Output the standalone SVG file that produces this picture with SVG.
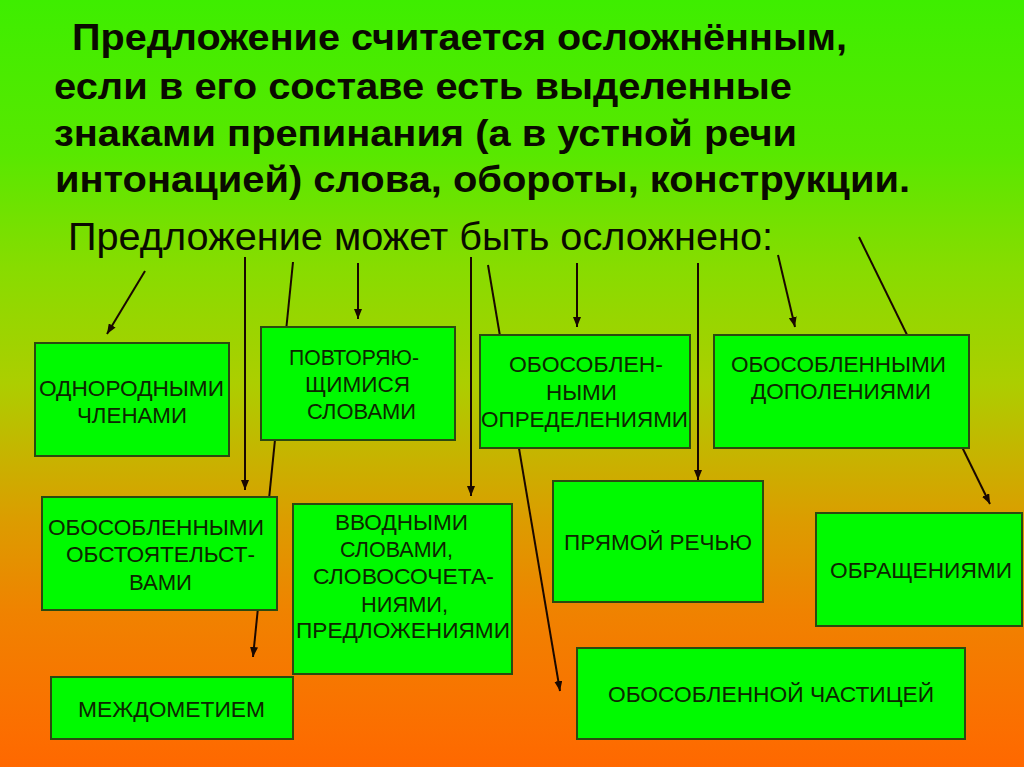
<svg xmlns="http://www.w3.org/2000/svg" width="1024" height="767" viewBox="0 0 1024 767">
<defs>
<linearGradient id="bg" x1="0" y1="0" x2="0" y2="1">
<stop offset="0" stop-color="#3eee00"/>
<stop offset="0.2" stop-color="#58e800"/>
<stop offset="0.35" stop-color="#88dc00"/>
<stop offset="0.5" stop-color="#acce00"/>
<stop offset="0.6" stop-color="#c8b200"/>
<stop offset="0.68" stop-color="#dc9c00"/>
<stop offset="0.8" stop-color="#f08200"/>
<stop offset="1" stop-color="#ff6800"/>
</linearGradient>
<marker id="ah" viewBox="0 0 10 8" refX="10" refY="4" markerWidth="10" markerHeight="8" orient="auto" markerUnits="userSpaceOnUse">
<path d="M0,0 L10,4 L0,8 z" fill="#1a0800"/>
</marker>
<style>
.title{font-family:"Liberation Sans",Arial,sans-serif;font-weight:bold;font-size:37px;fill:#0a0a00}
.sub{font-family:"Liberation Sans",Arial,sans-serif;font-size:38px;fill:#0a0a00}
.box rect{fill:#00fa00;stroke:#2b4a10;stroke-width:2}
.box text{font-family:"Liberation Sans",Arial,sans-serif;font-size:22px;fill:#0d2600}
.conn line{stroke:#1a0800;stroke-width:2}
.arr{marker-end:url(#ah)}
</style>
</defs>
<rect x="0" y="0" width="1024" height="767" fill="url(#bg)"/>
<g id="heading">
<text class="title" x="72" y="50" textLength="775" lengthAdjust="spacingAndGlyphs">Предложение считается осложнённым,</text>
<text class="title" x="54" y="99" textLength="738" lengthAdjust="spacingAndGlyphs">если в его составе есть выделенные</text>
<text class="title" x="54" y="146" textLength="743" lengthAdjust="spacingAndGlyphs">знаками препинания (а в устной речи</text>
<text class="title" x="55" y="192" textLength="855" lengthAdjust="spacingAndGlyphs">интонацией) слова, обороты, конструкции.</text>
<text class="sub" x="68" y="250" textLength="705" lengthAdjust="spacingAndGlyphs">Предложение может быть осложнено:</text>
</g>
<g id="connectors" class="conn">
<line class="arr" x1="145" y1="271" x2="107" y2="334"/>
<line class="arr" x1="245" y1="257" x2="245" y2="490"/>
<line class="arr" x1="293" y1="262" x2="253" y2="657"/>
<line class="arr" x1="358" y1="263" x2="358" y2="319"/>
<line class="arr" x1="471" y1="257" x2="471" y2="496"/>
<line class="arr" x1="488" y1="265" x2="560" y2="691"/>
<line class="arr" x1="577" y1="263" x2="577" y2="327"/>
<line class="arr" x1="698" y1="263" x2="698" y2="480"/>
<line class="arr" x1="778" y1="255" x2="795" y2="327"/>
<line class="arr" x1="859" y1="237" x2="990" y2="504"/>
</g>
<g id="n1" class="box">
<rect x="35" y="343" width="194" height="113"/>
<text x="39" y="396" textLength="185" lengthAdjust="spacingAndGlyphs">ОДНОРОДНЫМИ</text>
<text x="77" y="423" textLength="110" lengthAdjust="spacingAndGlyphs">ЧЛЕНАМИ</text>
</g>
<g id="n2" class="box">
<rect x="261" y="327" width="194" height="113"/>
<text x="289" y="365" textLength="130" lengthAdjust="spacingAndGlyphs">ПОВТОРЯЮ-</text>
<text x="305" y="392" textLength="105" lengthAdjust="spacingAndGlyphs">ЩИМИСЯ</text>
<text x="307" y="419" textLength="109" lengthAdjust="spacingAndGlyphs">СЛОВАМИ</text>
</g>
<g id="n3" class="box">
<rect x="480" y="335" width="210" height="113"/>
<text x="509" y="372" textLength="154" lengthAdjust="spacingAndGlyphs">ОБОСОБЛЕН-</text>
<text x="546" y="400" textLength="71" lengthAdjust="spacingAndGlyphs">НЫМИ</text>
<text x="481" y="427" textLength="207" lengthAdjust="spacingAndGlyphs">ОПРЕДЕЛЕНИЯМИ</text>
</g>
<g id="n4" class="box">
<rect x="714" y="335" width="255" height="113"/>
<text x="731" y="372" textLength="215" lengthAdjust="spacingAndGlyphs">ОБОСОБЛЕННЫМИ</text>
<text x="751" y="399" textLength="180" lengthAdjust="spacingAndGlyphs">ДОПОЛЕНИЯМИ</text>
</g>
<g id="n5" class="box">
<rect x="42" y="497" width="235" height="113"/>
<text x="48" y="535" textLength="216" lengthAdjust="spacingAndGlyphs">ОБОСОБЛЕННЫМИ</text>
<text x="66" y="562" textLength="189" lengthAdjust="spacingAndGlyphs">ОБСТОЯТЕЛЬСТ-</text>
<text x="129" y="590" textLength="63" lengthAdjust="spacingAndGlyphs">ВАМИ</text>
</g>
<g id="n6" class="box">
<rect x="293" y="504" width="219" height="170"/>
<text x="335" y="530" textLength="133" lengthAdjust="spacingAndGlyphs">ВВОДНЫМИ</text>
<text x="340" y="557" textLength="113" lengthAdjust="spacingAndGlyphs">СЛОВАМИ,</text>
<text x="313" y="584" textLength="181" lengthAdjust="spacingAndGlyphs">СЛОВОСОЧЕТА-</text>
<text x="361" y="612" textLength="87" lengthAdjust="spacingAndGlyphs">НИЯМИ,</text>
<text x="296" y="638" textLength="214" lengthAdjust="spacingAndGlyphs">ПРЕДЛОЖЕНИЯМИ</text>
</g>
<g id="n7" class="box">
<rect x="51" y="677" width="242" height="62"/>
<text x="78" y="717" textLength="187" lengthAdjust="spacingAndGlyphs">МЕЖДОМЕТИЕМ</text>
</g>
<g id="n8" class="box">
<rect x="553" y="481" width="210" height="121"/>
<text x="564" y="550" textLength="188" lengthAdjust="spacingAndGlyphs">ПРЯМОЙ РЕЧЬЮ</text>
</g>
<g id="n9" class="box">
<rect x="816" y="513" width="206" height="113"/>
<text x="830" y="578" textLength="182" lengthAdjust="spacingAndGlyphs">ОБРАЩЕНИЯМИ</text>
</g>
<g id="n10" class="box">
<rect x="577" y="648" width="388" height="91"/>
<text x="608" y="702" textLength="326" lengthAdjust="spacingAndGlyphs">ОБОСОБЛЕННОЙ ЧАСТИЦЕЙ</text>
</g>
</svg>
